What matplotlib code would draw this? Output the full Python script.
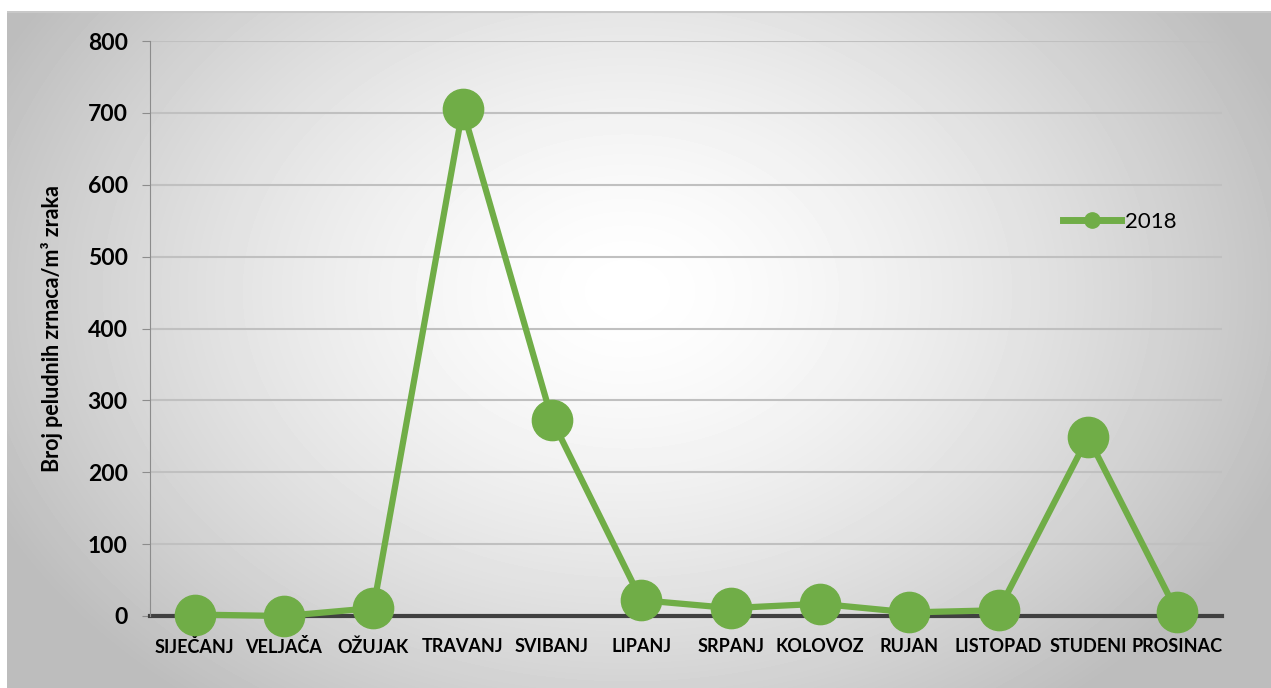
import matplotlib
matplotlib.use('Agg')
import matplotlib.pyplot as plt
import numpy as np

months = ['SIJEČANJ', 'VELJAČA', 'OŽUJAK', 'TRAVANJ', 'SVIBANJ', 'LIPANJ',
          'SRPANJ', 'KOLOVOZ', 'RUJAN', 'LISTOPAD', 'STUDENI', 'PROSINAC']
counts_2018 = [2, 0, 11, 705, 273, 22, 11, 17, 5, 8, 249, 5]
y_ticks = [0, 100, 200, 300, 400, 500, 600, 700, 800]

plt.rcParams['font.family'] = ['Lato', 'DejaVu Sans']

W, H = 1271, 688
fig = plt.figure(figsize=(W / 100, H / 100), dpi=100)
fig.patch.set_facecolor('white')

# radial gradient background of the chart panel
bg = fig.add_axes([7 / W, 0, (W - 7) / W, (H - 11) / H], zorder=0)
xx, yy = np.meshgrid(np.arange(W - 7), np.arange(H - 11))
r = np.sqrt(((xx - 620) / 700.0) ** 2 + ((yy - 280) / 520.0) ** 2)
shade = 255 - 66 * np.clip(r, 0, 1) ** 1.5
bg.imshow(shade, cmap='gray', vmin=0, vmax=255, aspect='auto', interpolation='bilinear')
bg.axis('off')
bg.axhline(0, color='#c8c8c8', lw=1.5)

ax = fig.add_axes([150 / W, 1 - 616 / H, (1222 - 150) / W, (616 - 41) / H], zorder=1)
ax.patch.set_alpha(0)

x = np.arange(len(months))
ax.plot(x, counts_2018, color='#70ad47', lw=4.5, marker='o', markersize=29,
        label='2018', clip_on=False, zorder=5)

ax.set_xlim(-0.5, len(months) - 0.5)
ax.set_ylim(0, 800)
ax.set_yticks(y_ticks)
ax.set_xticks(x)
ax.set_xticklabels(months, fontsize=13, fontweight='bold')
ax.tick_params(axis='x', length=0, pad=16)
ax.tick_params(axis='y', length=6, color='#8c8c8c', pad=10, labelsize=16.5)
for lbl in ax.get_yticklabels():
    lbl.set_fontweight('bold')

ax.grid(axis='y', color='#c0c0c0', lw=1.5)
ax.set_axisbelow(True)
for s in ['top', 'right']:
    ax.spines[s].set_visible(False)
ax.spines['left'].set_color('#8c8c8c')
ax.spines['bottom'].set_color('#404040')
ax.spines['bottom'].set_linewidth(3)
ax.spines['bottom'].set_zorder(2)

ax.set_ylabel('Broj peludnih zrnaca/m³ zraka', fontsize=15.5, fontweight='bold', labelpad=18)

leg = ax.legend(loc='center left', bbox_to_anchor=(0.833, 0.685), frameon=False,
                fontsize=16, handlelength=2.6, handletextpad=0.2)
leg.legend_handles[0].set_markersize(11)
leg.legend_handles[0].set_linewidth(5)

fig.savefig('out.png', dpi=100)
